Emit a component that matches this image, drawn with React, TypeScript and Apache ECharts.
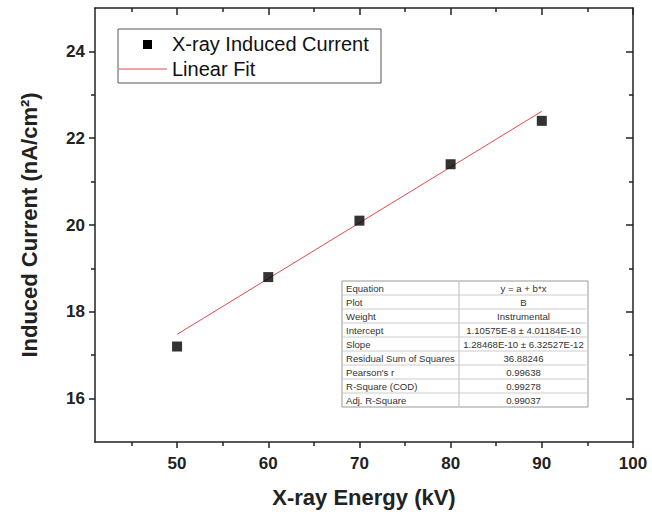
import React, { useEffect, useRef } from "react";
import * as echarts from "echarts";

const energyKV = [50, 60, 70, 80, 90];
const inducedCurrent = [17.2, 18.8, 20.1, 21.4, 22.4];
const fitEnergy = [50, 90];
const fitCurrent = [17.48, 22.62];
const xMajorTicks = [50, 60, 70, 80, 90, 100];
const xMinorTicks = [45, 55, 65, 75, 85, 95];
const yMajorTicks = [16, 18, 20, 22, 24];
const yMinorTicks = [17, 19, 21, 23];
const tableLabels = [
  "Equation",
  "Plot",
  "Weight",
  "Intercept",
  "Slope",
  "Residual Sum of Squares",
  "Pearson's r",
  "R-Square (COD)",
  "Adj. R-Square",
];
const tableValues = [
  "y = a + b*x",
  "B",
  "Instrumental",
  "1.10575E-8 ± 4.01184E-10",
  "1.28468E-10 ± 6.32527E-12",
  "36.88246",
  "0.99638",
  "0.99278",
  "0.99037",
];

const FONT = "'Liberation Sans', Arial, sans-serif";
const AX = "#222";

export default function App() {
  const ref = useRef<HTMLDivElement>(null);
  useEffect(() => {
    document.body.style.margin = "0";
    const chart = echarts.init(ref.current!, null, { renderer: "svg" });
    const mkAxis = (
      kind: "x" | "y",
      gridIndex: number,
      pos: string,
      vals: number[],
      len: number,
      inside: boolean,
      showLine: boolean
    ) => ({
      type: "value",
      gridIndex,
      position: pos,
      min: kind === "x" ? 41 : 15,
      max: kind === "x" ? 100 : 25,
      axisLine: { show: showLine, onZero: false, lineStyle: { color: AX, width: 1.5 } },
      axisTick: { show: true, inside, length: len, customValues: vals, lineStyle: { color: AX, width: 1.5 } },
      axisLabel: { show: false },
      splitLine: { show: false },
    });
    const tableX = 342;
    const tableY = 281;
    const rowH = 14;
    const tableW = 246;
    const divX = 459;
    const tFont = `9.6px ${FONT}`;
    const tableEls: any[] = [
      {
        type: "rect",
        shape: { x: tableX, y: tableY, width: tableW, height: rowH * tableLabels.length },
        style: { fill: "#fff", stroke: "#999", lineWidth: 1 },
      },
      {
        type: "line",
        shape: { x1: divX, y1: tableY, x2: divX, y2: tableY + rowH * tableLabels.length },
        style: { stroke: "#bbb", lineWidth: 1 },
      },
    ];
    tableLabels.forEach((lab, i) => {
      if (i > 0) {
        tableEls.push({
          type: "line",
          shape: { x1: tableX, y1: tableY + i * rowH, x2: tableX + tableW, y2: tableY + i * rowH },
          style: { stroke: "#ccc", lineWidth: 1 },
        });
      }
      tableEls.push({
        type: "text",
        x: tableX + 4,
        y: tableY + i * rowH + rowH / 2,
        style: { text: lab, font: tFont, fill: "#333", verticalAlign: "middle", align: "left" },
      });
      tableEls.push({
        type: "text",
        x: (divX + tableX + tableW) / 2,
        y: tableY + i * rowH + rowH / 2,
        style: { text: tableValues[i], font: tFont, fill: "#333", verticalAlign: "middle", align: "center" },
      });
    });

    const gridBox = { left: 95, right: 19, top: 8, bottom: 72 };

    chart.setOption({
      animation: false,
      backgroundColor: "#fff",
      grid: [gridBox, gridBox],
      xAxis: [
        {
          ...mkAxis("x", 0, "bottom", xMajorTicks, 6, false, true),
          axisLabel: {
            show: true,
            customValues: xMajorTicks,
            fontFamily: FONT,
            fontWeight: "bold",
            fontSize: 17,
            color: AX,
            margin: 13,
          },
          name: "X-ray Energy (kV)",
          nameLocation: "middle",
          nameGap: 44,
          nameTextStyle: { fontFamily: FONT, fontWeight: "bold", fontSize: 22, color: AX },
        },
        mkAxis("x", 0, "top", xMajorTicks, 7, true, true),
        mkAxis("x", 1, "bottom", xMinorTicks, 4, false, false),
        mkAxis("x", 1, "top", xMinorTicks, 4, true, false),
      ],
      yAxis: [
        {
          ...mkAxis("y", 0, "left", yMajorTicks, 6, false, true),
          axisLabel: {
            show: true,
            customValues: yMajorTicks,
            fontFamily: FONT,
            fontWeight: "bold",
            fontSize: 17,
            color: AX,
            margin: 10,
          },
          name: "Induced Current (nA/cm²)",
          nameLocation: "middle",
          nameGap: 55,
          nameTextStyle: { fontFamily: FONT, fontWeight: "bold", fontSize: 22, color: AX },
        },
        mkAxis("y", 0, "right", yMajorTicks, 7, true, true),
        mkAxis("y", 1, "left", yMinorTicks, 4, false, false),
        mkAxis("y", 1, "right", yMinorTicks, 4, true, false),
      ],
      series: [
        {
          name: "Linear Fit",
          type: "line",
          xAxisIndex: 0,
          yAxisIndex: 0,
          data: fitEnergy.map((x, i) => [x, fitCurrent[i]]),
          showSymbol: false,
          lineStyle: { color: "#e24a4a", width: 1 },
          z: 2,
        },
        {
          name: "X-ray Induced Current",
          type: "scatter",
          xAxisIndex: 0,
          yAxisIndex: 0,
          data: energyKV.map((x, i) => [x, inducedCurrent[i]]),
          symbol: "rect",
          symbolSize: 10,
          itemStyle: { color: "#000" },
          z: 3,
        },
      ],
      graphic: [
        {
          type: "rect",
          shape: { x: 118, y: 29, width: 263, height: 54 },
          style: { fill: "#fff", stroke: "#555", lineWidth: 1 },
          z: 10,
        },
        {
          type: "rect",
          shape: { x: 143, y: 40, width: 9, height: 9 },
          style: { fill: "#000" },
          z: 11,
        },
        {
          type: "text",
          x: 172,
          y: 44,
          style: { text: "X-ray Induced Current", font: `20px ${FONT}`, fill: "#111", verticalAlign: "middle" },
          z: 11,
        },
        {
          type: "line",
          shape: { x1: 119, y1: 69, x2: 167, y2: 69 },
          style: { stroke: "#e24a4a", lineWidth: 1 },
          z: 11,
        },
        {
          type: "text",
          x: 172,
          y: 69,
          style: { text: "Linear Fit", font: `20px ${FONT}`, fill: "#111", verticalAlign: "middle" },
          z: 11,
        },
        ...tableEls.map((e) => ({ ...e, z: 10 })),
      ],
    });
    return () => chart.dispose();
  }, []);
  return <div ref={ref} style={{ width: 652, height: 514 }} />;
}
